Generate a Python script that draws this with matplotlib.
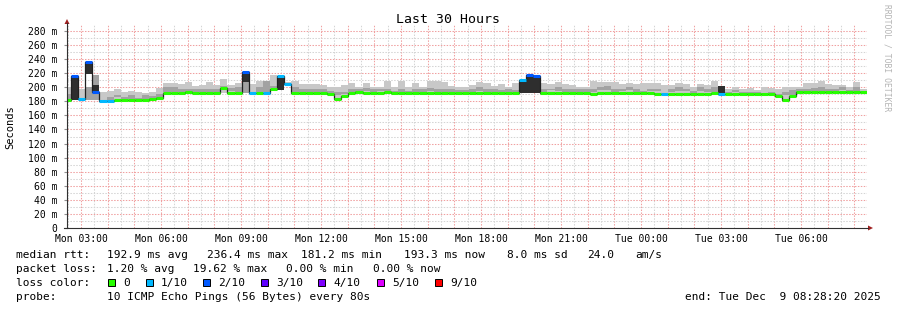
import numpy as np
import matplotlib
matplotlib.use("Agg")
import matplotlib.pyplot as plt
from matplotlib.patches import Rectangle, Polygon
from matplotlib.lines import Line2D

plt.rcParams['font.family'] = ['DejaVu Sans Mono']

# ---- data (one value per 16 min bin, Mon 02:28:20 -> Tue 08:28:20) ----
# median rtt, ms
med = [182, 216, 183, 236, 194, 181, 181, 182, 182, 182,
       182, 182, 183, 185, 192, 192, 192, 193, 192, 192,
       192, 192, 199, 192, 192, 222, 192, 192, 192, 198,
       216, 204, 192, 192, 192, 192, 192, 190, 183, 188,
       192, 193, 192, 192, 192, 193, 192, 192, 192, 192,
       192, 192, 192, 192, 192, 192, 192, 192, 192, 192,
       192, 192, 192, 192, 210, 217, 216, 192, 192, 192,
       192, 192, 192, 192, 191, 192, 192, 192, 192, 192,
       192, 192, 192, 190, 191, 190, 191, 191, 190, 190,
       190, 192, 191, 191, 191, 190, 190, 190, 191, 190,
       188, 182, 188, 193, 193, 193, 193, 193, 193, 193,
       193, 193, 193]
# lost pings out of 10
loss = [0, 2, 1, 2, 2, 1, 1, 0, 0, 0,
        0, 0, 0, 0, 0, 0, 0, 0, 0, 0,
        0, 0, 0, 0, 0, 2, 1, 0, 1, 0,
        1, 1, 0, 0, 0, 0, 0, 0, 0, 0,
        0, 0, 0, 0, 0, 0, 0, 0, 0, 0,
        0, 0, 0, 0, 0, 0, 0, 0, 0, 0,
        0, 0, 0, 0, 1, 2, 2, 0, 0, 0,
        0, 0, 0, 0, 0, 0, 0, 0, 0, 0,
        0, 0, 0, 0, 1, 0, 0, 0, 0, 0,
        0, 0, 1, 0, 0, 0, 0, 0, 0, 0,
        0, 0, 0, 0, 0, 0, 0, 0, 0, 0,
        0, 0, 0]
# smoke, outer (light) range
smoke_lo = [181, None, 182, None, None, 181, 181, 181, 181, 181,
            181, 181, 181, 183, 191, 191, 191, 191, 191, 191,
            191, 191, 192, 191, 191, None, 191, 191, 191, 195,
            None, 204, 191, 191, 191, 191, 191, 189, 182, 187,
            191, 191, 191, 191, 191, 191, 191, 191, 191, 191,
            191, 191, 191, 191, 191, 191, 191, 191, 191, 191,
            191, 191, 191, 191, None, None, None, 191, 191, 191,
            191, 191, 191, 191, 190, 191, 191, 191, 191, 191,
            191, 191, 191, 189, 190, 189, 190, 190, 189, 189,
            189, 191, None, 190, 190, 189, 189, 189, 190, 189,
            187, 181, 187, 192, 192, 192, 192, 192, 192, 192,
            192, 192, 192]
smoke_hi = [201, None, 197, None, None, 194, 195, 197, 194, 195,
            194, 192, 194, 199, 206, 206, 204, 208, 202, 203,
            208, 203, 212, 203, 206, None, 204, 209, 209, 217,
            None, 208, 209, 204, 204, 204, 203, 200, 200, 203,
            206, 200, 206, 200, 200, 209, 200, 209, 200, 206,
            200, 209, 209, 207, 202, 200, 200, 203, 207, 206,
            202, 204, 200, 206, None, None, None, 206, 204, 208,
            204, 203, 200, 200, 209, 207, 208, 208, 204, 206,
            204, 206, 206, 206, 203, 203, 206, 204, 200, 204,
            203, 209, None, 197, 200, 197, 199, 196, 200, 199,
            197, 200, 200, 200, 206, 206, 209, 204, 203, 203,
            200, 207, 197]
# smoke, inner (mid grey) range
mid_lo = [182, None, None, 182, 182, None, 181, 186, 182, 184,
          182, 182, 183, 185, 193, 194, 193, 194, 194, 194,
          193, 194, 200, 195, 194, 192, None, 193, 193, 199,
          None, None, 194, 194, 193, 194, 193, 191, 189, 190,
          194, 194, 195, 194, 195, 195, 193, 194, 193, 194,
          193, 195, 194, 194, 193, 193, 193, 194, 195, 194,
          193, 193, 194, 193, None, None, None, 193, 196, 195,
          193, 194, 193, 193, 194, 196, 196, 194, 195, 196,
          194, 193, 195, 195, None, 194, 195, 195, 192, 195,
          194, 194, None, 192, 193, 191, 191, 191, 190, 190,
          189, 189, 189, 194, 194, 195, 195, 195, 193, 196,
          193, 195, 193]
mid_hi = [190, None, None, 200, 217, None, 186, 189, 186, 189,
          185, 189, 188, 190, 200, 200, 197, 198, 197, 198,
          197, 198, 202, 199, 200, 208, None, 200, 209, 202,
          None, None, 200, 198, 197, 197, 198, 195, 193, 194,
          198, 197, 199, 198, 198, 198, 195, 197, 195, 198,
          197, 199, 197, 198, 198, 196, 196, 198, 200, 198,
          197, 196, 198, 196, None, None, None, 198, 198, 200,
          197, 198, 198, 198, 198, 200, 202, 197, 198, 200,
          198, 195, 198, 198, None, 198, 200, 198, 195, 200,
          198, 200, None, 194, 196, 194, 194, 193, 192, 193,
          191, 193, 196, 198, 198, 199, 200, 198, 197, 200,
          196, 200, 195]
# dark smoke blocks where pings were lost
dark_bins = [1, 3, 4, 25, 30, 64, 65, 66, 92]
dark_lo = [182, 219, 193, 208, 196, 192, 192, 192, 192]
dark_hi = [216, 236, 203, 222, 216, 209, 217, 216, 202]

loss_colors = ['#26ff00', '#00b8ff', '#0059ff', '#5e00ff', '#7e00ff', '#dd00ff', '#ff0000']
loss_labels = ['0', '1/10', '2/10', '3/10', '4/10', '5/10', '9/10']

xtick_hours = [3, 6, 9, 12, 15, 18, 21, 24, 27, 30]
xtick_labels = ['Mon 03:00', 'Mon 06:00', 'Mon 09:00', 'Mon 12:00', 'Mon 15:00',
                'Mon 18:00', 'Mon 21:00', 'Tue 00:00', 'Tue 03:00', 'Tue 06:00']
ytick_vals = list(range(0, 281, 20))
ytick_labels = ['0'] + ['%d m' % v for v in ytick_vals[1:]]

def arr(l):
	return np.array([np.nan if v is None else v for v in l], dtype=float)

med = arr(med)
smoke_lo, smoke_hi = arr(smoke_lo), arr(smoke_hi)
mid_lo, mid_hi = arr(mid_lo), arr(mid_hi)

# time bins (hours since Mon 00:00)
start = 2 + 28/60 + 20/3600
end = start + 30
edges = np.concatenate([[start], start + 9/60 + np.arange(112)*16/60, [end]])
left = edges[:-1]
width = np.diff(edges)

W, H = 897, 310
fig = plt.figure(figsize=(W/100, H/100), dpi=100)
fig.patch.set_facecolor('white')

def fx(x): return x / W
def fy(y): return 1 - y / H

ax = fig.add_axes([fx(67), fy(228), 800/W, (228-25)/H])
ax.set_xlim(start, end)
ax.set_ylim(0, (228-25)/0.7036)
for s in ax.spines.values():
	s.set_visible(False)

# grid
dot = (0, (1.4, 1.4))
h = np.ceil(start*2)/2
while h < end:
	if abs(h - round(h)) < 1e-6:
		ax.axvline(h, color='#f0a0a0', lw=0.75, ls=dot, zorder=0)
	else:
		ax.axvline(h, color='#d4d4d4', lw=0.75, ls=dot, zorder=0)
	h += 0.5
for v in range(10, 290, 10):
	if v % 20 == 0:
		ax.axhline(v, color='#f0a0a0', lw=0.75, ls=dot, zorder=0)
	else:
		ax.axhline(v, color='#d4d4d4', lw=0.75, ls=dot, zorder=0)

# smoke
m = ~np.isnan(smoke_lo)
ax.bar(left[m], (smoke_hi - smoke_lo)[m], width[m], bottom=smoke_lo[m], align='edge',
       color='#c8c8c8', lw=0, zorder=2)
m = ~np.isnan(mid_lo)
ax.bar(left[m], (mid_hi - mid_lo)[m], width[m], bottom=mid_lo[m], align='edge',
       color='#a2a2a2', lw=0, zorder=3)
db = np.array(dark_bins)
ax.bar(left[db], np.array(dark_hi) - np.array(dark_lo), width[db], bottom=dark_lo,
       align='edge', color='#2e2e2e', lw=0, zorder=4)

# median line coloured by loss
ax.stairs(med, edges, baseline=None, color='#202020', lw=0.9, zorder=5)
ax.hlines(med, edges[:-1], edges[1:], colors=[loss_colors[int(l)] for l in loss],
          lw=2.2, zorder=6)

# ticks
ax.set_xticks(xtick_hours)
ax.set_xticklabels(xtick_labels, fontsize=7)
ax.set_yticks(ytick_vals)
ax.set_yticklabels(ytick_labels, fontsize=7)
ax.tick_params(axis='x', length=0, pad=4)
ax.tick_params(axis='y', length=2, color='#909090', pad=5)

# axes with arrows
fig.add_artist(Line2D([fx(67), fx(67)], [fy(228), fy(23)], color='#303030', lw=0.8))
fig.add_artist(Line2D([fx(64), fx(868)], [fy(228), fy(228)], color='#303030', lw=0.8))
fig.add_artist(Polygon([[fx(64.5), fy(24)], [fx(69.5), fy(24)], [fx(67), fy(19)]],
                       closed=True, color='#a02020', lw=0))
fig.add_artist(Polygon([[fx(868), fy(225.5)], [fx(868), fy(230.5)], [fx(873), fy(228)]],
                       closed=True, color='#a02020', lw=0))

# titles
fig.text(fx(448), fy(23), 'Last 30 Hours', ha='center', va='baseline', fontsize=9.5)
fig.text(fx(10), fy(127), 'Seconds', rotation=90, ha='center', va='center', fontsize=7.5)
fig.text(fx(887), fy(4), 'RRDTOOL / TOBI OETIKER', rotation=270, ha='center', va='top',
         fontsize=5.8, color='#b4b4b4')

# legend
fs = 8
line1 = [(16, 'median rtt:'), (107, '192.9 ms avg'), (207, '236.4 ms max'),
         (301, '181.2 ms min'), (404, '193.3 ms now'), (507, '8.0 ms sd'),
         (587, '24.0'), (635, 'am/s')]
for x, t in line1:
	fig.text(fx(x), fy(258), t, fontsize=fs, va='baseline')
line2 = [(16, 'packet loss:'), (107, '1.20 % avg'), (193, '19.62 % max'),
         (286, '0.00 % min'), (373, '0.00 % now')]
for x, t in line2:
	fig.text(fx(x), fy(272), t, fontsize=fs, va='baseline')
fig.text(fx(16), fy(286), 'loss color:', fontsize=fs, va='baseline')
box_x = [108, 146, 203, 261, 318, 377, 435]
for bx, c, lab in zip(box_x, loss_colors, loss_labels):
	fig.add_artist(Rectangle((fx(bx), fy(285.5)), 7/W, 7/H, facecolor=c,
	                         edgecolor='black', lw=0.7, transform=fig.transFigure))
	fig.text(fx(bx + 15), fy(286), lab, fontsize=fs, va='baseline')
fig.text(fx(16), fy(300), 'probe:', fontsize=fs, va='baseline')
fig.text(fx(107), fy(300), '10 ICMP Echo Pings (56 Bytes) every 80s', fontsize=fs, va='baseline')
fig.text(fx(881), fy(300), 'end: Tue Dec  9 08:28:20 2025', fontsize=fs, va='baseline', ha='right')

fig.savefig('out.png', dpi=100, facecolor='white')
